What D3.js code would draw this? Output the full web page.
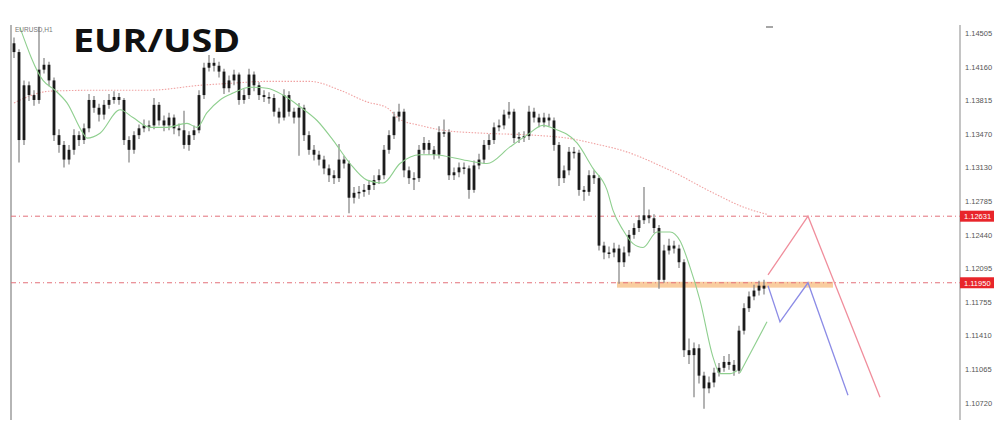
<!DOCTYPE html>
<html><head><meta charset="utf-8">
<script src="https://cdn.jsdelivr.net/npm/d3@7"></script>
<style>html,body{margin:0;padding:0;background:#fff;}svg{display:block;}</style>
</head><body>
<svg id="chart" width="1000" height="427"></svg>
<script>
// ---- data ----
const title = "EUR/USD";
const symbolLabel = "EURUSD,H1";
const tickLabels = ["1.14505","1.14160","1.13815","1.13470","1.13130","1.12785","1.12440","1.12095","1.11755","1.11410","1.11065","1.10720"];
const levelLabels = ["1.12631","1.11950"];
const firstOpen = 1.1440;
const closes = [1.1431,1.1341,1.1397,1.1387,1.1382,1.1413,1.1418,1.1402,1.1346,1.1336,
1.1321,1.1331,1.1346,1.1341,1.1353,1.1382,1.1374,1.1367,1.1377,1.1382,
1.1385,1.1382,1.1341,1.1331,1.1346,1.1353,1.1356,1.1356,1.1377,1.1361,
1.1356,1.1364,1.1353,1.1351,1.1336,1.1346,1.1351,1.1387,1.1415,1.1420,
1.1417,1.1411,1.1394,1.1402,1.1408,1.1382,1.1387,1.1408,1.1397,1.1387,
1.1385,1.1384,1.1370,1.1364,1.1387,1.1370,1.1364,1.1374,1.1346,1.1331,
1.1326,1.1321,1.1312,1.1305,1.1302,1.1321,1.1317,1.1282,1.1287,1.1288,
1.1290,1.1295,1.1300,1.1305,1.1331,1.1346,1.1365,1.1370,1.1310,1.1302,
1.1302,1.1331,1.1338,1.1331,1.1326,1.1349,1.1349,1.1305,1.1308,1.1313,
1.1312,1.1290,1.1315,1.1321,1.1336,1.1341,1.1354,1.1356,1.1367,1.1370,
1.1343,1.1344,1.1345,1.1370,1.1364,1.1359,1.1364,1.1361,1.1336,1.1302,
1.1310,1.1329,1.1328,1.1290,1.1288,1.1305,1.1302,1.1233,1.1226,1.1226,
1.1230,1.1216,1.1226,1.1244,1.1251,1.1259,1.1264,1.1261,1.1251,1.1198,
1.1228,1.1233,1.1230,1.1216,1.1126,1.1121,1.1128,1.1100,1.1087,1.1093,
1.1103,1.1108,1.1114,1.1111,1.1105,1.1146,1.1169,1.1181,1.1187,1.1192,1.1189];
const highs = [1.1446,1.1434,1.1402,1.1401,1.1392,1.1457,1.1425,1.1421,1.1405,1.1352,
1.1340,1.1336,1.1352,1.1350,1.1358,1.1388,1.1386,1.1378,1.1382,1.1388,
1.1391,1.1389,1.1384,1.1345,1.1350,1.1357,1.1362,1.1361,1.1384,1.1380,
1.1366,1.1369,1.1367,1.1358,1.1371,1.1350,1.1356,1.1392,1.1420,1.1428,
1.1425,1.1421,1.1414,1.1407,1.1413,1.1410,1.1393,1.1414,1.1411,1.1400,
1.1392,1.1390,1.1388,1.1374,1.1393,1.1391,1.1374,1.1379,1.1377,1.1350,
1.1336,1.1330,1.1325,1.1316,1.1310,1.1337,1.1325,1.1320,1.1293,1.1294,
1.1296,1.1300,1.1305,1.1311,1.1336,1.1351,1.1370,1.1378,1.1373,1.1314,
1.1308,1.1336,1.1344,1.1341,1.1335,1.1355,1.1362,1.1352,1.1313,1.1318,
1.1318,1.1315,1.1320,1.1327,1.1341,1.1347,1.1359,1.1362,1.1372,1.1380,
1.1373,1.1349,1.1350,1.1376,1.1374,1.1368,1.1369,1.1368,1.1364,1.1339,
1.1315,1.1334,1.1334,1.1331,1.1294,1.1310,1.1310,1.1305,1.1237,1.1232,
1.1236,1.1234,1.1232,1.1249,1.1256,1.1264,1.1293,1.1270,1.1265,1.1254,
1.1234,1.1240,1.1238,1.1234,1.1219,1.1138,1.1134,1.1132,1.1104,1.1099,
1.1108,1.1113,1.1120,1.1122,1.1116,1.1151,1.1174,1.1186,1.1193,1.1197,1.1198];
const lows = [1.1425,1.1318,1.1336,1.1381,1.1376,1.1378,1.1409,1.1396,1.1340,1.1328,
1.1313,1.1316,1.1326,1.1335,1.1337,1.1349,1.1369,1.1360,1.1362,1.1373,
1.1378,1.1377,1.1336,1.1318,1.1327,1.1342,1.1349,1.1350,1.1352,1.1356,
1.1350,1.1351,1.1347,1.1345,1.1332,1.1330,1.1341,1.1348,1.1383,1.1411,
1.1411,1.1405,1.1388,1.1390,1.1397,1.1377,1.1378,1.1383,1.1391,1.1382,
1.1380,1.1378,1.1365,1.1358,1.1361,1.1365,1.1358,1.1325,1.1340,1.1326,
1.1320,1.1315,1.1306,1.1298,1.1296,1.1298,1.1312,1.1266,1.1276,1.1281,
1.1283,1.1285,1.1290,1.1296,1.1301,1.1327,1.1342,1.1360,1.1303,1.1296,
1.1290,1.1298,1.1327,1.1326,1.1321,1.1322,1.1344,1.1300,1.1300,1.1303,
1.1306,1.1281,1.1287,1.1311,1.1317,1.1331,1.1337,1.1350,1.1352,1.1363,
1.1338,1.1338,1.1339,1.1341,1.1359,1.1354,1.1354,1.1355,1.1330,1.1294,
1.1297,1.1305,1.1322,1.1284,1.1279,1.1284,1.1296,1.1228,1.1219,1.1220,
1.1221,1.1194,1.1211,1.1222,1.1240,1.1247,1.1255,1.1256,1.1246,1.1189,
1.1195,1.1224,1.1225,1.1210,1.1119,1.1112,1.1078,1.1092,1.1066,1.1082,
1.1088,1.1099,1.1104,1.1106,1.1100,1.1102,1.1142,1.1165,1.1177,1.1182,1.1183];

// fast moving average (green), read at bar positions
const fastMaIdx = [1.2,5.8,8.2,10.6,13.8,14.6,17.2,21.2,23.8,27.2,30.6,34.6,36.6,38.6,41.2,43.8,47.2,50.6,53.8,57.2,60.6,63.8,67.2,70.6,73.8,77.2,81.2,83.8,90.6,94.6,99.2,102.6,105.8,107.8,112.6,115.8,118.6,119.8,121.8,123.8,125.8,128.6,131.2,133.2,135.2,137.2,139.8,141.2,143.2,144.6];
const fastMaVal = [1.1456,1.1402,1.1392,1.1379,1.1348,1.1343,1.1348,1.1372,1.1364,1.1354,1.1354,1.1358,1.1354,1.1369,1.1382,1.1389,1.1395,1.1394,1.1387,1.1375,1.1361,1.1341,1.1317,1.1300,1.1297,1.1317,1.1326,1.1326,1.1320,1.1317,1.1334,1.1346,1.1356,1.1353,1.1338,1.1312,1.1290,1.1269,1.1249,1.1235,1.1231,1.1247,1.1247,1.1238,1.1211,1.1177,1.1119,1.1102,1.1102,1.1105];
// short green trend segment
const trendIdx = [145.2,150.6];
const trendVal = [1.1103,1.1155];
// slow moving average (red dotted)
const slowMaIdx = [0,7.2,17.2,27.2,37.2,43.2,50.6,59.2,65.2,70.6,74.6,77.2,81.2,85.8,93.8,103.8,110.6,117.2,121.2,131.2,139.8,146.6,150.6];
const slowMaVal = [1.1379,1.1391,1.1392,1.1392,1.1397,1.1399,1.1401,1.1401,1.1392,1.1380,1.1374,1.1362,1.1356,1.1351,1.1348,1.1346,1.1343,1.1336,1.1331,1.1310,1.1287,1.1271,1.1265];
// projection paths
const bearIdx = [150.8,158.8,173.2];
const bearVal = [1.1203,1.12631,1.1078];
const blueIdx = [150.8,153.2,158.8,166.8];
const blueVal = [1.1192,1.1155,1.11950,1.1080];
// resistance zone
const zoneIdx = [120.6,163.8];
const zoneVal = [1.1196,1.1190];

// ---- drawing ----
const svg = d3.select("#chart");
const W = 1000, H = 427;
svg.append("rect").attr("width",W).attr("height",H).attr("fill","#fff");
const defs = svg.append("defs");
defs.append("filter").attr("id","soft").append("feGaussianBlur").attr("stdDeviation",0.45);

const n = closes.length;
const x = d3.scaleLinear().domain([0, n-1]).range([14, 764]);
const y = d3.scaleLinear().domain([1.10720, 1.14505]).range([403, 33]);
const plotLeft = 11, plotRight = 960, plotTop = 25, plotBottom = 420;

// frame lines
svg.append("line").attr("x1",plotLeft).attr("x2",plotLeft).attr("y1",plotTop).attr("y2",plotBottom)
  .attr("stroke","#b5b5b5").attr("stroke-width",2);
svg.append("line").attr("x1",plotRight).attr("x2",plotRight).attr("y1",plotTop).attr("y2",plotBottom)
  .attr("stroke","#b0b0b0").attr("stroke-width",1.5);
// small mark top
svg.append("line").attr("x1",766).attr("x2",773).attr("y1",27).attr("y2",27).attr("stroke","#888").attr("stroke-width",1.5);

// right axis
const axis = d3.axisRight(y).tickValues(tickLabels.map(Number)).tickSize(0).tickPadding(5)
  .tickFormat((d,i)=>tickLabels[i]);
const ag = svg.append("g").attr("transform",`translate(${plotRight},0)`).call(axis);
ag.select(".domain").remove();
ag.selectAll("text").attr("fill","#555").attr("font-size",7.5).attr("font-family","Liberation Sans, Arial, sans-serif");

// orange zone
svg.append("rect")
  .attr("x", x(zoneIdx[0])).attr("width", x(zoneIdx[1]) - x(zoneIdx[0]))
  .attr("y", y(zoneVal[0])).attr("height", y(zoneVal[1]) - y(zoneVal[0]))
  .attr("fill","#f8c48e").attr("opacity",0.85);

// horizontal levels
levelLabels.forEach(l=>{
  const v = +l;
  svg.append("line").attr("x1",plotLeft).attr("x2",plotRight).attr("y1",y(v)).attr("y2",y(v))
    .attr("stroke","#e3707a").attr("stroke-width",1).attr("stroke-dasharray","5,3,1,3");
});

// slow MA
const lineGen = d3.line().curve(d3.curveMonotoneX);
svg.append("path")
  .attr("d", lineGen(slowMaIdx.map((d,i)=>[x(d), y(slowMaVal[i])])))
  .attr("fill","none").attr("stroke","#f0a2a2").attr("stroke-width",1.1).attr("stroke-dasharray","1.5,1.5");

// candles
const bars = d3.range(n).map(i=>({i, o: i===0?firstOpen:closes[i-1], c: closes[i], h: highs[i], l: lows[i]}));
const cg = svg.append("g").attr("filter","url(#soft)");
cg.selectAll("line.w").data(bars).join("line").attr("class","w")
  .attr("x1",d=>x(d.i)).attr("x2",d=>x(d.i))
  .attr("y1",d=>y(d.h)).attr("y2",d=>y(d.l))
  .attr("stroke","#8a8a8a").attr("stroke-width",1.3);
cg.selectAll("rect.b").data(bars).join("rect").attr("class","b")
  .attr("x",d=>x(d.i)-1.4).attr("width",2.8)
  .attr("y",d=>y(Math.max(d.o,d.c)))
  .attr("height",d=>Math.max(1.5, Math.abs(y(d.o)-y(d.c))))
  .attr("fill","#1c1c1c");

// fast MA
svg.append("path")
  .attr("d", lineGen(fastMaIdx.map((d,i)=>[x(d), y(fastMaVal[i])])))
  .attr("fill","none").attr("stroke","#8fcf8f").attr("stroke-width",1.1);
svg.append("path")
  .attr("d", d3.line()(trendIdx.map((d,i)=>[x(d), y(trendVal[i])])))
  .attr("fill","none").attr("stroke","#8fcf8f").attr("stroke-width",1.1);

// projections
svg.append("path")
  .attr("d", d3.line()(bearIdx.map((d,i)=>[x(d), y(bearVal[i])])))
  .attr("fill","none").attr("stroke","#f08e9c").attr("stroke-width",1.3);
svg.append("path")
  .attr("d", d3.line()(blueIdx.map((d,i)=>[x(d), y(blueVal[i])])))
  .attr("fill","none").attr("stroke","#8c8ce6").attr("stroke-width",1.3);

// level labels
levelLabels.forEach(l=>{
  const v = +l;
  svg.append("rect").attr("x",plotRight).attr("y",y(v)-5.5).attr("width",34).attr("height",11).attr("fill","#e8252a");
  svg.append("text").attr("x",plotRight+4).attr("y",y(v)+3).attr("fill","#fff")
    .attr("font-size",7.5).attr("font-family","Liberation Sans, Arial, sans-serif").text(l);
});

// labels
svg.append("text").attr("x",15).attr("y",32).attr("fill","#777").attr("font-size",6.5)
  .attr("font-family","Liberation Sans, Arial, sans-serif").text(symbolLabel);
svg.append("text").attr("x",73).attr("y",52).attr("fill","#111").attr("font-size",32)
  .attr("font-weight",700).attr("font-family","Open Sans, Lato, sans-serif")
  .attr("textLength",167).attr("lengthAdjust","spacingAndGlyphs").text(title);
</script>
</body></html>
